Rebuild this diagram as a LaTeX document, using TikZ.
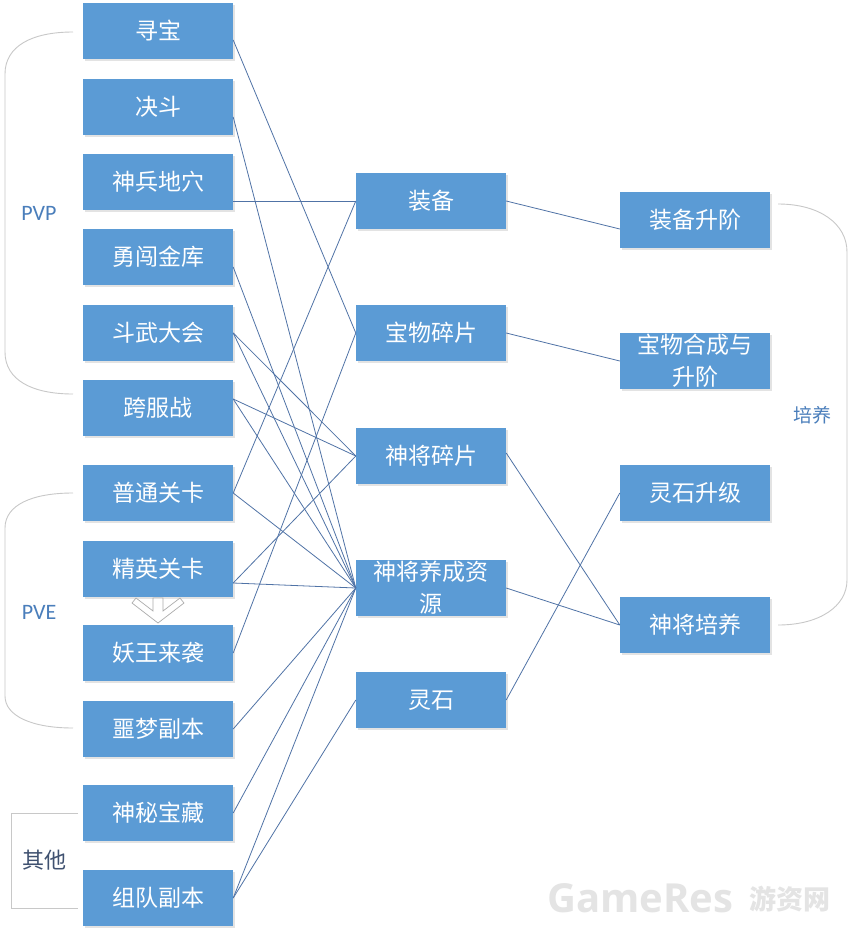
\documentclass[tikz,border=0pt]{standalone}
\usepackage{fontspec}
\newfontfamily\cjk{Noto Sans CJK SC}
\newfontfamily\lat{Carlito}
\newfontfamily\wmf{Open Sans}
\usetikzlibrary{shadows}
\definecolor{boxblue}{HTML}{5B9BD5}
\definecolor{linkc}{HTML}{5073A6}
\definecolor{brk}{HTML}{C8C8C8}
\definecolor{lbl}{HTML}{4A7EBB}
\definecolor{lbldark}{HTML}{3F5170}
\definecolor{wm}{HTML}{E4E4E4}
\begin{document}
\begin{tikzpicture}[x=1pt,y=-1pt,
  box/.style={fill=boxblue, text=white, minimum width=150pt, minimum height=56pt,
    inner sep=0pt, align=center, font=\cjk\fontsize{23}{32}\selectfont,
    drop shadow={shadow xshift=1.5pt, shadow yshift=-2pt, opacity=0.22, fill=gray}},
  link/.style={draw=linkc, line width=0.8pt},
  brace/.style={draw=brk, line width=0.9pt},
  grp/.style={text=lbl, font=\lat\fontsize{22}{22}\selectfont},
  hollowarrow/.style={draw=gray!65, fill=white, line width=0.7pt, line join=miter}
]
\useasboundingbox[fill=white] (0,0) rectangle (852,935);

% brackets
\draw[brace] (73,32) .. controls (32,32) and (5,46) .. (5,74) -- (5,352)
  .. controls (5,380) and (32,394) .. (73,394);
\draw[brace] (73,493) .. controls (32,493) and (5,505) .. (5,528) -- (5,696)
  .. controls (5,716) and (32,728) .. (73,728);
\draw[brace] (78,813) -- (11,813) -- (11,908) -- (78,908);
\draw[brace] (778,204) .. controls (820,204) and (847,224) .. (847,252) -- (847,580)
  .. controls (847,606) and (820,625) .. (778,625);

% left column
\node[box] (xb) at (158,31) {寻宝};
\node[box] (jd) at (158,107) {决斗};
\node[box] (sb) at (158,182) {神兵地穴};
\node[box] (yc) at (158,257) {勇闯金库};
\node[box] (dw) at (158,333) {斗武大会};
\node[box] (kf) at (158,408) {跨服战};
\node[box] (pt) at (158,493) {普通关卡};
\node[box] (jy) at (158,569) {精英关卡};
\node[box] (yw) at (158,653) {妖王来袭};
\node[box] (em) at (158,729) {噩梦副本};
\node[box] (sm) at (158,813) {神秘宝藏};
\node[box] (zd) at (158,898) {组队副本};

% middle column
\node[box] (zb) at (431,201) {装备};
\node[box] (bw) at (431,333) {宝物碎片};
\node[box] (sj) at (431,456) {神将碎片};
\node[box] (yy) at (431,588) {神将养成资\\源};
\node[box] (ls) at (431,700) {灵石};

% right column
\node[box] (zbsj) at (695,220) {装备升阶};
\node[box] (bwhc) at (695,361) {宝物合成与\\升阶};
\node[box] (lssj) at (695,493) {灵石升级};
\node[box] (sjpy) at (695,625) {神将培养};

% group labels
\node[grp] (pvp) at (39,213) {PVP};
\node[grp] (pve) at (39,612) {PVE};
\node[text=lbldark, font=\cjk\fontsize{22}{22}\selectfont] (qt) at (45,860) {其他};
\node[text=lbl, font=\cjk\fontsize{19}{19}\selectfont] (py) at (812,415) {培养};

% hollow arrow
\draw[hollowarrow] (132,603) -- (158,623) -- (184,603) -- (180,598) -- (163,611)
  -- (163,598) -- (153,598) -- (153,611) -- (136,598) -- cycle;

% left -> middle
\draw[link] ([yshift=-9pt]xb.east) -- (bw.west);
\draw[link] ([yshift=-10pt]jd.east) -- (yy.west);
\draw[link] ([yshift=-19pt]sb.east) -- (zb.west);
\draw[link] ([yshift=-10pt]yc.east) -- (yy.west);
\draw[link] (dw.east) -- (sj.west);
\draw[link] (dw.east) -- (yy.west);
\draw[link] ([yshift=9pt]kf.east) -- (sj.west);
\draw[link] ([yshift=9pt]kf.east) -- (yy.west);
\draw[link] (pt.east) -- (zb.west);
\draw[link] (pt.east) -- (yy.west);
\draw[link] ([yshift=-14pt]jy.east) -- (sj.west);
\draw[link] ([yshift=-14pt]jy.east) -- (yy.west);
\draw[link] (yw.east) -- (bw.west);
\draw[link] (em.east) -- (yy.west);
\draw[link] (sm.east) -- (yy.west);
\draw[link] (zd.east) -- (yy.west);
\draw[link] (zd.east) -- (ls.west);

% middle -> right
\draw[link] (zb.east) -- ([yshift=-9pt]zbsj.west);
\draw[link] (bw.east) -- (bwhc.west);
\draw[link] ([yshift=3pt]sj.east) -- (sjpy.west);
\draw[link] (yy.east) -- (sjpy.west);
\draw[link] (ls.east) -- (lssj.west);

% watermark
\node[text=wm, font=\wmf\bfseries\fontsize{40}{40}\selectfont, anchor=west] (wm1) at (544,898) {GameRes};
\node[text=wm, font=\cjk\bfseries\fontsize{27}{27}\selectfont, anchor=west] (wm2) at (746,899) {游资网};
\end{tikzpicture}
\end{document}
